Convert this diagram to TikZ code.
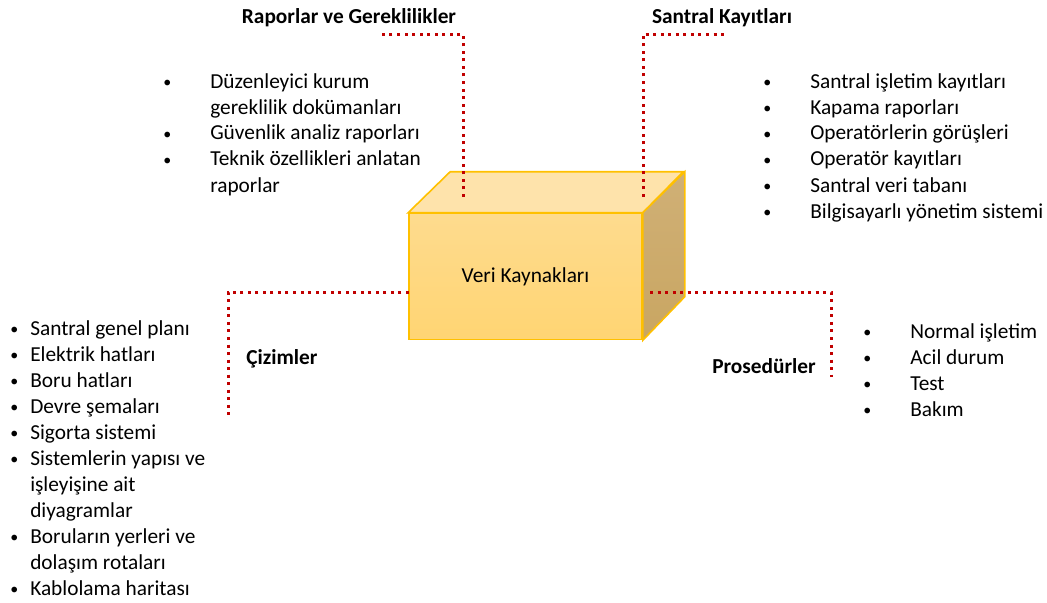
\documentclass[tikz,border=0pt]{standalone}
\usepackage{fontspec}
\setmainfont{Carlito}
\usetikzlibrary{positioning}
\definecolor{koyukirmizi}{HTML}{C00000}
\definecolor{altin}{HTML}{FFC000}
\newcommand{\listesatir}{\fontsize{16}{19.5}\selectfont}
\newcommand{\imlec}{\raisebox{0.5pt}{\fontsize{12}{12}\selectfont\textbullet}}

\begin{document}
\begin{tikzpicture}[x=0.75pt, y=-0.75pt,
  kutu/.style={draw=altin, line width=1.2pt,
    minimum width=174.75pt, minimum height=94.5pt, inner sep=0pt, font=\listesatir},
  baslik/.style={font=\bfseries\fontsize{16}{19}\selectfont, inner sep=0pt},
  liste/.style={anchor=base west, inner sep=0pt, font=\listesatir},
  noktali/.style={draw=koyukirmizi, line width=2.25pt, dash pattern=on 2.25pt off 3.4pt}]
\useasboundingbox (0,0) rectangle (1047,603);
\node[kutu, top color={rgb,255:red,254;green,219;blue,142}, bottom color={rgb,255:red,255;green,213;blue,115}] (veri) at (525.5,276.5) {Veri Kaynakları};
\draw[altin, line width=1.2pt, fill={rgb,255:red,254;green,227;blue,171}] (veri.north west) -- ++(42,-41) -- ++(233,0) -- (veri.north east) -- cycle;
\draw[altin, line width=1.2pt, top color={rgb,255:red,208;green,176;blue,118}, bottom color={rgb,255:red,201;green,166;blue,98}] (veri.north east) -- ++(42,-41) -- ++(0,125) -- (veri.south east) -- cycle;
\coordinate (r1) at (463,197);
\coordinate (r2) at (382,34);
\coordinate (k1) at (643,197);
\coordinate (k2) at (727,34);
\coordinate (c1) at (409,292);
\coordinate (c2) at (228,416);
\coordinate (p1) at (650,292);
\coordinate (p2) at (831,377);
\draw[noktali] (r1) |- (r2);
\draw[noktali] (k1) |- (k2);
\draw[noktali] (c1) -| (c2);
\draw[noktali] (p1) -| (p2);
\node[baslik] (rapor) at (349,18) {Raporlar ve Gereklilikler};
\node[baslik] (kayit) at (722,18) {Santral Kayıtları};
\node[baslik, anchor=west] (cizim) at (246,359) {Çizimler};
\node[baslik, anchor=east] (prosedur) at (816,366) {Prosedürler};
\node[liste] (raporliste) at (163,88) {\begin{tabular}[t]{@{}p{35.25pt}@{}l@{}}
\imlec & Düzenleyici kurum\\
 & gereklilik dokümanları\\
\imlec & Güvenlik analiz raporları\\
\imlec & Teknik özellikleri anlatan\\
 & raporlar
\end{tabular}};
\node[liste] (kayitliste) at (763,88) {\begin{tabular}[t]{@{}p{35.25pt}@{}l@{}}
\imlec & Santral işletim kayıtları\\
\imlec & Kapama raporları\\
\imlec & Operatörlerin görüşleri\\
\imlec & Operatör kayıtları\\
\imlec & Santral veri tabanı\\
\imlec & Bilgisayarlı yönetim sistemi
\end{tabular}};
\node[liste] (cizimliste) at (10,335) {\begin{tabular}[t]{@{}p{15pt}@{}l@{}}
\imlec & Santral genel planı\\
\imlec & Elektrik hatları\\
\imlec & Boru hatları\\
\imlec & Devre şemaları\\
\imlec & Sigorta sistemi\\
\imlec & Sistemlerin yapısı ve\\
 & işleyişine ait\\
 & diyagramlar\\
\imlec & Boruların yerleri ve\\
 & dolaşım rotaları\\
\imlec & Kablolama haritası
\end{tabular}};
\node[liste] (prosedurliste) at (863,338) {\begin{tabular}[t]{@{}p{35.25pt}@{}l@{}}
\imlec & Normal işletim\\
\imlec & Acil durum\\
\imlec & Test\\
\imlec & Bakım
\end{tabular}};
\end{tikzpicture}
\end{document}
